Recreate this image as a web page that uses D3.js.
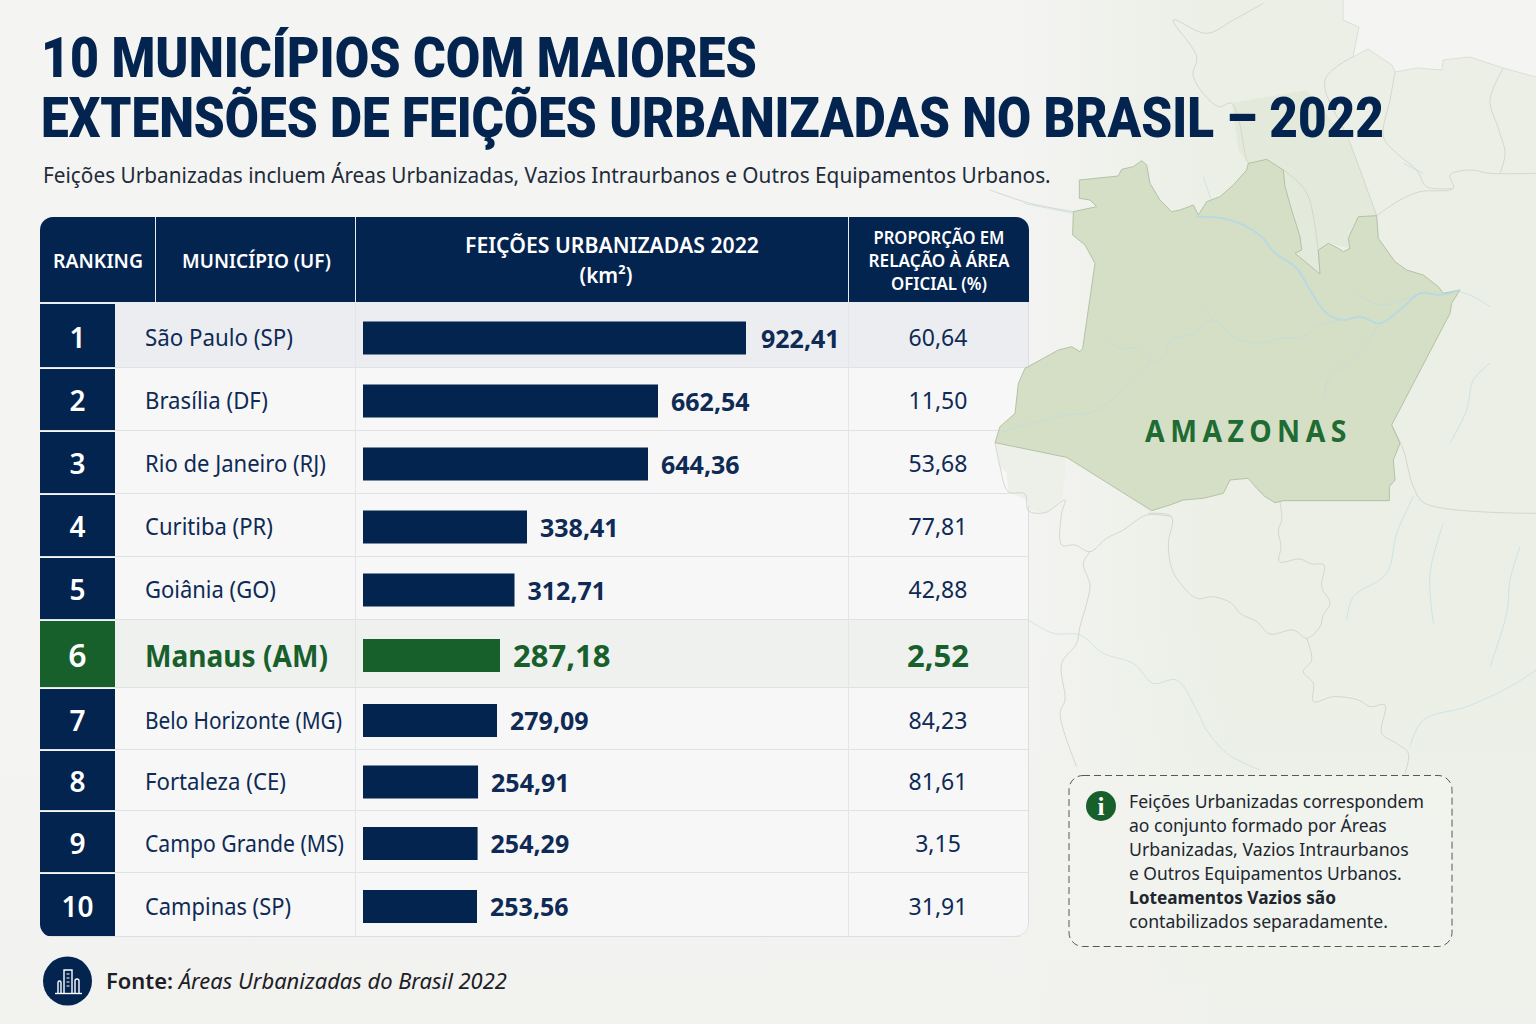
<!DOCTYPE html>
<html lang="pt-BR">
<head>
<meta charset="utf-8">
<title>10 municípios com maiores extensões de feições urbanizadas</title>
<script src="https://cdn.jsdelivr.net/npm/d3@7"></script>
<style>
    html, body { margin: 0; padding: 0; background: #f4f4f3; }
    svg { display: block; }
    text { font-family: "Noto Sans", sans-serif; }
</style>
</head>
<body>
<div id="chart"></div>
<script>
// Data
const ranks = [1, 2, 3, 4, 5, 6, 7, 8, 9, 10];
const municipios = ["São Paulo (SP)", "Brasília (DF)", "Rio de Janeiro (RJ)", "Curitiba (PR)", "Goiânia (GO)",
    "Manaus (AM)", "Belo Horizonte (MG)", "Fortaleza (CE)", "Campo Grande (MS)", "Campinas (SP)"];
const areas = [922.41, 662.54, 644.36, 338.41, 312.71, 287.18, 279.09, 254.91, 254.29, 253.56];
const proporcoes = [60.64, 11.50, 53.68, 77.81, 42.88, 2.52, 84.23, 81.61, 3.15, 31.91];
const highlight = "Manaus (AM)";

const titleLines = ["10 MUNICÍPIOS COM MAIORES", "EXTENSÕES DE FEIÇÕES URBANIZADAS NO BRASIL – 2022"];
const subtitle = "Feições Urbanizadas incluem Áreas Urbanizadas, Vazios Intraurbanos e Outros Equipamentos Urbanos.";
const noteLines = ["Feições Urbanizadas correspondem", "ao conjunto formado por Áreas", "Urbanizadas, Vazios Intraurbanos",
    "e Outros Equipamentos Urbanos.", "Loteamentos Vazios são", "contabilizados separadamente."];

// Map outlines, in the map's own coordinate space (see mapX / mapY)
const landOutline = [[1059,-450],[1059,-390],[1107,-369],[1089,-279],[1134,-303],[1206,-255],[1215,-234],[1281,-246],[1356,-240],[1359,-270],[1440,-279],[1539,-246],[1638,-219],[1638,2622],[-200,2622],[-200,-450]];
const amazonasOutline = [[268,90],[385,78],[395,58],[430,50],[455,32],[470,45],[480,100],[510,150],[545,185],[570,180],[610,165],[625,195],[650,155],[690,140],[730,105],[770,60],[775,40],[830,28],[880,60],[885,110],[905,180],[930,260],[935,300],[915,310],[990,372],[985,300],[1015,280],[1045,295],[1060,305],[1080,295],[1075,265],[1105,200],[1160,197],[1165,265],[1215,335],[1250,360],[1300,375],[1345,410],[1360,430],[1410,420],[1385,460],[1380,490],[1205,825],[1230,880],[1210,930],[1215,990],[1198,1010],[1198,1052],[880,1052],[855,1058],[825,1040],[800,1015],[775,985],[720,990],[700,1030],[640,1045],[580,1050],[540,1065],[485,1082],[230,922],[15,878],[30,830],[75,790],[85,700],[105,655],[160,625],[205,600],[245,590],[270,605],[278,595],[315,340],[285,285],[248,255],[250,185],[320,170],[300,150],[268,145]];
const roraimaOutline = [[726,-141],[951,-180],[1080,-21],[1161,197],[1105,200],[1075,265],[1080,295],[1015,280],[990,372],[915,310],[935,300],[885,110],[880,60],[830,28],[775,40],[745,0]];
const acreOutline = [[15,880],[30,950],[50,970],[55,1025],[110,1050],[120,1080],[170,1090],[215,1050],[230,922]];
const coastBorder = [[1059,-450],[1059,-390],[1107,-369],[1089,-279],[1134,-303],[1206,-255],[1215,-234],[1281,-246],[1356,-240],[1359,-270],[1440,-279],[1539,-246],[1638,-219]];
const stateBorders = [
    [[870,1055],[875,1110],[865,1140],[873,1190],[868,1235],[930,1227],[965,1242],[1002,1245],[995,1310],[1020,1360],[1000,1395],[990,1430],[950,1465],[910,1440],[840,1452],[800,1415],[750,1390],[725,1360],[670,1340],[620,1345],[575,1305],[545,1255],[535,1180],[545,1100],[475,1090]],
    [[545,1100],[470,1095],[400,1140],[350,1165],[300,1205],[255,1185],[215,1185],[215,1090],[225,1050],[165,1088],[115,1082],[105,1032],[55,1025],[30,950],[15,878]],
    [[300,1205],[280,1240],[300,1305],[290,1360],[270,1430],[260,1480],[215,1540],[225,1650],[210,1690],[260,1850]],
    [[950,1465],[965,1530],[940,1565],[970,1600],[970,1655],[1030,1640],[1105,1650],[1140,1670],[1185,1665],[1175,1750],[1220,1780],[1255,1810],[1245,1870]],
    [[1205,825],[1240,900],[1270,1010],[1305,1060],[1638,1090]],
    [[1160,197],[1230,150],[1290,125],[1390,115],[1380,75],[1440,60],[1500,70],[1638,70]],
    [[1160,197],[1080,-21],[1005,-210],[1090,-280]],
    [[1215,-234],[1200,-150],[1180,-40],[1220,10],[1280,60],[1310,110],[1390,115]],
    [[1540,-245],[1500,-150],[1525,-65],[1545,10],[1530,70]],
    [[880,60],[951,130],[990,372]],
    [[775,40],[770,30],[725,-140],[685,-130],[610,-220],[620,-280],[550,-390],[650,-350],[730,-390],[820,-440]],
    [[250,185],[120,160],[0,120]]
];
const mainRiver = [[620,200],[700,205],[760,225],[820,265],[850,305],[920,355],[960,420],[1010,490],[1060,510],[1110,500],[1170,520],[1240,470],[1290,430],[1350,435],[1410,420]];
const rivers = [
    [[350,565],[390,595],[440,595],[480,635],[520,620],[545,570],[610,550],[670,510],[730,560],[800,580],[870,565],[940,560],[980,530],[1055,510]],
    [[1170,520],[1120,590],[1070,640],[1020,680],[1000,740]],
    [[20,850],[200,800],[320,780],[420,700],[480,640]],
    [[640,475],[670,510]],
    [[1100,430],[1170,465],[1290,430]],
    [[115,1410],[190,1450],[270,1455],[340,1510],[430,1540],[490,1600],[560,1590],[620,1680],[650,1740],[710,1810],[810,1860]],
    [[1070,1410],[1090,1340],[1190,1270],[1220,1150],[1270,1040]],
    [[1330,1420],[1320,1270],[1360,1120]],
    [[1500,1550],[1550,1390],[1560,1290],[1590,1190]],
    [[1260,1790],[1300,1710],[1430,1670],[1560,1610],[1638,1560]],
    [[1410,425],[1450,440],[1500,470]],
    [[1500,640],[1450,690],[1430,780],[1380,880]],
    [[100,160],[200,180],[250,190]],
    [[640,80],[670,170]],
    [[1240,40],[1300,70]]
];

// Chart dimensions
const width = 1536, height = 1024;
const table = { x: 40, y: 217, w: 989, h: 720, header: 85 };
const colX = { rank: 115, nome: 155, barra: 355, prop: 848 };
const rowHeights = [66, 63, 63, 63, 63, 68, 62, 61, 62, 64];
const rowTops = rowHeights.map((h, i) => table.y + table.header + d3.sum(rowHeights.slice(0, i)));
const rowCenter = i => rowHeights[i] / 2 + (i === 0 ? 3 : 1.5);
// Widths the names take in the picture
const nameWidths = [148, 123, 181, 128, 131, 183, 197, 141, 199, 146];
const noteWidths = [295, 258, 280, 273, 207, 259];
const titleWidths = [716, 1343];

const navy = "#03244f", green = "#17602c", ink = "#0e2a55";
const fmt = d3.format(".2f");
const br = v => fmt(v).replace(".", ",");
const isHi = i => municipios[i] === highlight;

// Squeeze a text to the width it has in the picture
function fit(selection, w) {
    selection.each(function(d, i) {
        let t = d3.select(this);
        let x = +t.attr("x"), y = +t.attr("y");
        let k = w(d, i) / this.getComputedTextLength();
        t.attr("x", 0).attr("y", 0).attr("transform", `translate(${x},${y}) scale(${k},1)`);
    });
}

// The source bars are not quite proportional to their labels,
// so the scale follows them through stops
const xScale = d3.scaleLinear()
    .domain([0, 253.56, 279.09, 287.18, 312.71, 338.41, 644.36, 662.54, 922.41])
    .range([363, 477, 497, 500, 514.5, 527, 648, 658, 746]);

const mapX = d3.scaleLinear().domain([0, 1500]).range([990, 1490]);
const mapY = d3.scaleLinear().domain([0, 1140]).range([150, 530]);

const svg = d3.select("#chart").append("svg")
    .attr("width", width)
    .attr("height", height);

const defs = svg.append("defs");

let landFill = defs.append("linearGradient").attr("id", "landFill")
    .attr("gradientUnits", "userSpaceOnUse")
    .attr("x1", 1000).attr("x2", 1230).attr("y1", 0).attr("y2", 0);
landFill.append("stop").attr("offset", "0%").attr("stop-color", "#ebefe5").attr("stop-opacity", 0);
landFill.append("stop").attr("offset", "100%").attr("stop-color", "#ebefe5").attr("stop-opacity", 1);

let fade = defs.append("linearGradient").attr("id", "fade").attr("x1", 0).attr("x2", 0).attr("y1", 0).attr("y2", 1);
fade.append("stop").attr("offset", "60%").attr("stop-color", "#f1f2ee").attr("stop-opacity", 0);
fade.append("stop").attr("offset", "100%").attr("stop-color", "#f1f2ee").attr("stop-opacity", 0.8);

defs.append("clipPath").attr("id", "tableClip")
    .append("rect")
    .attr("x", table.x).attr("y", table.y)
    .attr("width", table.w).attr("height", table.h)
    .attr("rx", 13);

// Background
svg.append("rect").attr("width", width).attr("height", height).attr("fill", "#f4f4f3");

const mapPath = d3.line().x(d => mapX(d[0])).y(d => mapY(d[1]));
const mapCurve = d3.line().x(d => mapX(d[0])).y(d => mapY(d[1])).curve(d3.curveCatmullRom);

svg.append("path")
    .datum(landOutline)
    .attr("d", d => mapPath(d) + "Z")
    .attr("fill", "url(#landFill)");
svg.append("rect").attr("width", width).attr("height", height).attr("fill", "url(#fade)");

// Table
const tableG = svg.append("g").attr("clip-path", "url(#tableClip)");

tableG.append("rect")
    .attr("x", table.x).attr("y", table.y)
    .attr("width", table.w).attr("height", table.h)
    .attr("fill", "#f7f7f7");

tableG.append("rect")
    .attr("x", table.x).attr("y", table.y)
    .attr("width", table.w).attr("height", table.header)
    .attr("fill", navy);

// Header separators
tableG.selectAll(".headSep")
    .data([colX.nome, colX.barra, colX.prop])
    .enter().append("line")
    .attr("class", "headSep")
    .attr("x1", d => d + 0.5).attr("x2", d => d + 0.5)
    .attr("y1", table.y).attr("y2", table.y + table.header)
    .attr("stroke", "#e8ecf2")
    .attr("stroke-width", 1);

// Rows
const rows = tableG.selectAll(".row")
    .data(ranks)
    .enter().append("g")
    .attr("class", "row")
    .attr("transform", (d, i) => `translate(0,${rowTops[i]})`);

rows.append("rect")
    .attr("x", table.x)
    .attr("width", table.w)
    .attr("height", (d, i) => rowHeights[i])
    .attr("fill", (d, i) => i === 0 ? "#ebedf0" : isHi(i) ? "#eff1ef" : "#f7f7f7");

rows.append("line")
    .attr("x1", table.x).attr("x2", table.x + table.w)
    .attr("y1", (d, i) => rowHeights[i] - 0.5).attr("y2", (d, i) => rowHeights[i] - 0.5)
    .attr("stroke", "#dfe1e2");

rows.append("rect")
    .attr("x", table.x)
    .attr("y", (d, i) => i === 0 ? 2 : 1)
    .attr("width", colX.rank - table.x)
    .attr("height", (d, i) => rowHeights[i] - (i === 0 ? 3 : 2))
    .attr("fill", (d, i) => isHi(i) ? green : navy);

// Column lines inside the body
tableG.selectAll(".colSep")
    .data([colX.barra, colX.prop])
    .enter().append("line")
    .attr("class", "colSep")
    .attr("x1", d => d + 0.5).attr("x2", d => d + 0.5)
    .attr("y1", table.y + table.header).attr("y2", table.y + table.h)
    .attr("stroke", "#e3e5e6");

rows.append("text")
    .attr("x", 77.5)
    .attr("y", (d, i) => rowCenter(i))
    .attr("dy", "0.36em")
    .attr("text-anchor", "middle")
    .attr("fill", "#fff")
    .attr("font-size", (d, i) => isHi(i) ? 32 : 28)
    .attr("font-weight", 600)
    .text(d => d);

rows.append("text")
    .attr("x", 145)
    .attr("y", (d, i) => rowCenter(i))
    .attr("dy", "0.36em")
    .attr("fill", (d, i) => isHi(i) ? green : ink)
    .attr("font-size", (d, i) => isHi(i) ? 31 : 23)
    .attr("font-weight", (d, i) => isHi(i) ? 700 : 400)
    .text((d, i) => municipios[i])
    .call(fit, (d, i) => nameWidths[i]);

// Bars
rows.append("rect")
    .attr("x", xScale(0))
    .attr("y", (d, i) => rowCenter(i) - 16.5)
    .attr("width", (d, i) => xScale(areas[i]) - xScale(0))
    .attr("height", 33)
    .attr("fill", (d, i) => isHi(i) ? green : navy);

rows.append("text")
    .attr("x", (d, i) => xScale(areas[i]) + (i === 0 ? 15 : 13))
    .attr("y", (d, i) => rowCenter(i) + 0.5)
    .attr("dy", "0.36em")
    .attr("fill", (d, i) => isHi(i) ? green : ink)
    .attr("font-size", (d, i) => isHi(i) ? 31 : 25)
    .attr("font-weight", 700)
    .text((d, i) => br(areas[i]));

rows.append("text")
    .attr("x", 938)
    .attr("y", (d, i) => rowCenter(i))
    .attr("dy", "0.36em")
    .attr("text-anchor", "middle")
    .attr("fill", (d, i) => isHi(i) ? green : ink)
    .attr("font-size", (d, i) => isHi(i) ? 31 : 23)
    .attr("font-weight", (d, i) => isHi(i) ? 700 : 400)
    .text((d, i) => br(proporcoes[i]));

// Right and bottom edge of the table body
svg.append("path")
    .attr("d", `M${table.x + table.w - 0.5} ${table.y + table.header}V${table.y + table.h - 13.5}a13 13 0 0 1 -13 13H${colX.rank}`)
    .attr("fill", "none")
    .attr("stroke", "#dcdfe1");

// Header labels
const headerLabels = [
    { t: "RANKING", x: 98, y: 268, s: 20, w: 90 },
    { t: "MUNICÍPIO (UF)", x: 256.5, y: 268, s: 20, w: 149 },
    { t: "FEIÇÕES URBANIZADAS 2022", x: 612, y: 253, s: 21, w: 294 },
    { t: "(km²)", x: 606, y: 283, s: 21, w: 53 },
    { t: "PROPORÇÃO EM", x: 939, y: 244, s: 18, w: 131 },
    { t: "RELAÇÃO À ÁREA", x: 939, y: 267, s: 18, w: 141 },
    { t: "OFICIAL (%)", x: 939, y: 290, s: 18, w: 96 }
];
svg.selectAll(".head")
    .data(headerLabels)
    .enter().append("text")
    .attr("class", "head")
    .attr("x", d => d.x)
    .attr("y", d => d.y)
    .attr("text-anchor", "middle")
    .attr("fill", "#fff")
    .attr("font-size", d => d.s)
    .attr("font-weight", 600)
    .text(d => d.t)
    .call(fit, d => d.w);

// Map, it lies over the edge of the table
const mapG = svg.append("g");

mapG.append("path")
    .datum(roraimaOutline)
    .attr("d", d => mapPath(d) + "Z")
    .attr("fill", "#dfe6d3")
    .attr("fill-opacity", 0.6);

mapG.append("path")
    .datum(acreOutline)
    .attr("d", d => mapPath(d) + "Z")
    .attr("fill", "#edefe9");

mapG.selectAll(".border")
    .data(stateBorders)
    .enter().append("path")
    .attr("class", "border")
    .attr("d", mapCurve)
    .attr("fill", "none")
    .attr("stroke", "#d0d4c9")
    .attr("stroke-width", 0.9);

mapG.append("path")
    .datum(coastBorder)
    .attr("d", mapPath)
    .attr("fill", "none")
    .attr("stroke", "#d8dcd1")
    .attr("stroke-width", 0.9);

mapG.append("path")
    .datum(amazonasOutline)
    .attr("d", d => mapPath(d) + "Z")
    .attr("fill", "#d4dfc6")
    .attr("stroke", "#afbca2")
    .attr("stroke-width", 0.9);

mapG.selectAll(".river")
    .data(rivers)
    .enter().append("path")
    .attr("class", "river")
    .attr("d", mapCurve)
    .attr("fill", "none")
    .attr("stroke", "#bcdbe6")
    .attr("stroke-opacity", 0.7)
    .attr("stroke-width", 0.9);

mapG.append("path")
    .datum(mainRiver)
    .attr("d", mapCurve)
    .attr("fill", "none")
    .attr("stroke", "#b7d9e3")
    .attr("stroke-width", 1.8);

svg.append("text")
    .attr("x", 1145)
    .attr("y", 442)
    .attr("fill", "#1f6b33")
    .attr("font-size", 31)
    .attr("font-weight", 700)
    .attr("letter-spacing", 6)
    .text("AMAZONAS")
    .call(fit, () => 207);

// Title
svg.selectAll(".title")
    .data(titleLines)
    .enter().append("text")
    .attr("class", "title")
    .attr("x", 41)
    .attr("y", (d, i) => 77 + i * 60)
    .attr("fill", navy)
    .style("font-family", "Roboto")
    .attr("font-size", 56)
    .attr("font-weight", 900)
    .text(d => d)
    .call(fit, (d, i) => titleWidths[i]);

svg.append("text")
    .attr("x", 43)
    .attr("y", 183)
    .attr("fill", "#222b38")
    .attr("font-size", 22.5)
    .text(subtitle)
    .call(fit, () => 1008);

// Note box
svg.append("rect")
    .attr("x", 1069).attr("y", 775.5)
    .attr("width", 383).attr("height", 171)
    .attr("rx", 14)
    .attr("fill", "#f2f3f0")
    .attr("fill-opacity", 0.7)
    .attr("stroke", "#55585a")
    .attr("stroke-width", 1)
    .attr("stroke-dasharray", "7 4");

svg.append("circle").attr("cx", 1101).attr("cy", 806).attr("r", 15).attr("fill", green);
svg.append("text")
    .attr("x", 1101).attr("y", 806)
    .attr("dy", "0.36em")
    .attr("text-anchor", "middle")
    .attr("fill", "#fff")
    .style("font-family", "Liberation Serif")
    .attr("font-size", 25)
    .attr("font-weight", 700)
    .text("i");

svg.selectAll(".note")
    .data(noteLines)
    .enter().append("text")
    .attr("class", "note")
    .attr("x", 1129)
    .attr("y", (d, i) => 808 + i * 24)
    .attr("fill", "#20262e")
    .attr("font-size", 17.5)
    .attr("font-weight", (d, i) => i === 4 ? 700 : 400)
    .text(d => d)
    .call(fit, (d, i) => noteWidths[i]);

// Source
svg.append("circle").attr("cx", 67.5).attr("cy", 981).attr("r", 24.5).attr("fill", navy);
const icon = svg.append("g").attr("stroke", "#fff").attr("stroke-width", 1.4).attr("fill", "none");
icon.append("path").attr("d", "M55 993.5H82");
icon.append("path").attr("d", "M58 993V982.5a1.5 1.5 0 0 1 3 0V993");
icon.append("path").attr("d", "M64 993V970H72V993");
icon.append("path").attr("d", "M75 993V981a2 2 0 0 1 4 0V993");
icon.append("path").attr("d", "M66.5 974H69.5M66.5 978H69.5M66.5 982H69.5M66.5 986H69.5").attr("stroke-width", 1);

let fonte = svg.append("text")
    .attr("x", 106)
    .attr("y", 989)
    .attr("fill", "#1c2026")
    .attr("font-size", 21.5);
fonte.append("tspan").attr("font-weight", 600).text("Fonte: ");
fonte.append("tspan").attr("font-style", "italic").text("Áreas Urbanizadas do Brasil 2022");
fonte.call(fit, () => 401);
</script>
</body>
</html>
